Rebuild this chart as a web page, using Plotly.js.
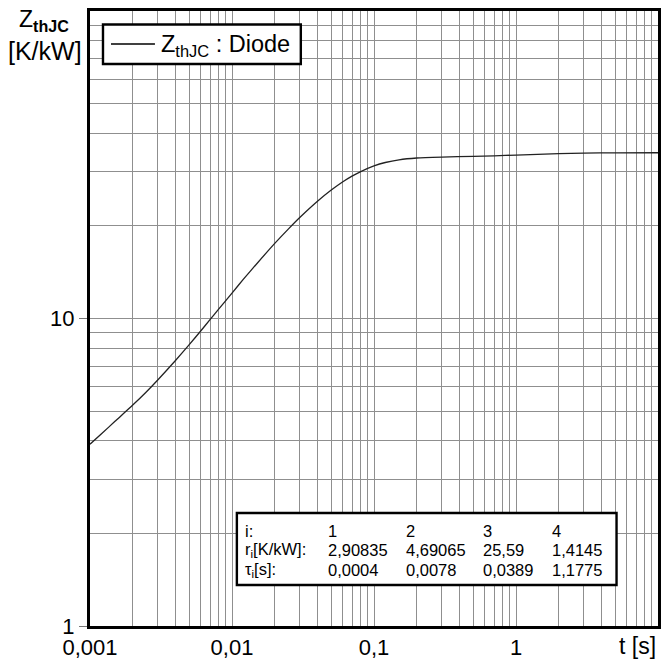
<!DOCTYPE html>
<html>
<head>
<meta charset="utf-8">
<script src="https://cdn.plot.ly/plotly-3.0.1.min.js"></script>
<style>
html,body{margin:0;padding:0;background:#fff;}
#chart{width:664px;height:661px;}
</style>
</head>
<body>
<div id="chart"></div>
<script>
// Time axis samples [s] and Z_thJC readings [K/kW]
const tValues = [0.001, 0.0012, 0.0015, 0.002, 0.0025, 0.003, 0.004, 0.005, 0.006, 0.007, 0.008, 0.01, 0.012, 0.015, 0.02, 0.025, 0.03, 0.04, 0.05, 0.06, 0.07, 0.08, 0.1, 0.12, 0.15, 0.2, 0.3, 0.5, 0.7, 1, 2, 3, 5, 10];
const zValues = [3.9, 4.21, 4.63, 5.23, 5.78, 6.31, 7.3, 8.22, 9.09, 9.91, 10.68, 12.1, 13.4, 15.1, 17.55, 19.57, 21.3, 24.06, 26.16, 27.79, 29.04, 30.0, 31.35, 32.16, 32.82, 33.26, 33.49, 33.68, 33.82, 34.0, 34.35, 34.49, 34.58, 34.6];

// Axis tick labels
const xTickVals = [0.001, 0.01, 0.1, 1];
const xTickText = ['0,001', '0,01', '0,1', '1'];
const yTickVals = [1, 10];
const yTickText = ['1', '10'];

// Legend label
const seriesName = 'Z<sub>thJC</sub> : Diode';

// Foster table
const tableIndex = ['1', '2', '3', '4'];
const rValues = ['2,90835', '4,69065', '25,59', '1,4145'];
const tauValues = ['0,0004', '0,0078', '0,0389', '1,1775'];
const rowLabels = ['i:', 'r<sub>i</sub>[K/kW]:', 'τ<sub>i</sub>[s]:'];

const FONT = 'Liberation Sans, Arial, sans-serif';
const grid = '#8f8f8f';

// log grid positions (1..9 per decade)
function logGrid(d0, d1) {
  const v = [];
  for (let d = d0; d < d1; d++) for (let m = 2; m <= 9; m++) v.push(+(m * Math.pow(10, d)).toPrecision(3));
  return v;
}

// pixel -> paper helpers (plot area 90..658.5 x 11..626)
const L = 90, R = 658.5, T = 11, B = 626;
const px = x => (x - L) / (R - L);
const py = y => (B - y) / (B - T);

const trace = {
  x: tValues, y: zValues, type: 'scatter', mode: 'lines',
  line: {color: '#222', width: 1.3, shape: 'spline', smoothing: 0.5},
  name: seriesName, hoverinfo: 'skip', showlegend: false
};

const annotations = [
  {xref: 'paper', yref: 'paper', x: px(44), y: py(20), text: 'Z<sub><b>thJC</b></sub>', showarrow: false,
   font: {family: FONT, size: 23, color: '#000'}, xanchor: 'center', yanchor: 'middle'},
  {xref: 'paper', yref: 'paper', x: px(44.5), y: py(51.5), text: '[K/kW]', showarrow: false,
   font: {family: FONT, size: 25, color: '#000'}, xanchor: 'center', yanchor: 'middle'},
  {xref: 'paper', yref: 'paper', x: px(659), y: py(646), text: 't [s]', showarrow: false,
   font: {family: FONT, size: 23, color: '#000'}, xanchor: 'right', yanchor: 'middle'},
  {xref: 'paper', yref: 'paper', x: px(159), y: py(45), text: seriesName, showarrow: false,
   font: {family: FONT, size: 23.5, color: '#000'}, xanchor: 'left', yanchor: 'middle'}
];

const colX = [px(327), px(405), px(482), px(551)];
const rowY = [py(530.5), py(550), py(569.5)];
const rows = [tableIndex, rValues, tauValues];
rowLabels.forEach((lab, r) => {
  annotations.push({xref: 'paper', yref: 'paper', x: px(244), y: rowY[r], text: lab, showarrow: false,
    font: {family: FONT, size: 16.5, color: '#000'}, xanchor: 'left', yanchor: 'middle', borderpad: 0});
  rows[r].forEach((v, c) => {
    annotations.push({xref: 'paper', yref: 'paper', x: colX[c], y: rowY[r], text: v, showarrow: false,
      font: {family: FONT, size: 16.5, color: '#000'}, xanchor: 'left', yanchor: 'middle', borderpad: 0});
  });
});

const shapes = [
  {type: 'rect', xref: 'paper', yref: 'paper', x0: px(237), x1: px(617), y0: py(585), y1: py(513),
   fillcolor: '#fff', line: {color: '#000', width: 2.4}, layer: 'above'},
  // legend box + line sample
  {type: 'rect', xref: 'paper', yref: 'paper', x0: px(103), x1: px(301), y0: py(64), y1: py(24.5),
   fillcolor: '#fff', line: {color: '#000', width: 2.4}, layer: 'above'},
  {type: 'line', xref: 'paper', yref: 'paper', x0: px(111), x1: px(155), y0: py(44), y1: py(44),
   line: {color: '#000', width: 1.5}, layer: 'above'}
];

const layout = {
  width: 664, height: 661,
  margin: {l: 90, r: 5.5, t: 11, b: 35, pad: 0},
  paper_bgcolor: '#fff', plot_bgcolor: '#fff',
  font: {family: FONT, size: 22, color: '#000'},
  showlegend: false,
  xaxis: {
    type: 'log', range: [-3, 1], tickmode: 'array', tickvals: xTickVals, ticktext: xTickText,
    showgrid: true, gridcolor: grid, gridwidth: 1,
    minor: {tickmode: 'array', tickvals: logGrid(-3, 1), showgrid: true, gridcolor: grid, gridwidth: 1, ticks: ''},
    showline: true, linecolor: '#000', linewidth: 3, mirror: true,
    ticks: '', zeroline: false, tickfont: {family: FONT, size: 22, color: '#000'}
  },
  yaxis: {
    type: 'log', range: [0, 2], tickmode: 'array', tickvals: yTickVals, ticktext: yTickText,
    showgrid: true, gridcolor: grid, gridwidth: 1,
    minor: {tickmode: 'array', tickvals: logGrid(0, 2), showgrid: true, gridcolor: grid, gridwidth: 1, ticks: ''},
    showline: true, linecolor: '#000', linewidth: 3, mirror: true,
    ticks: 'outside', ticklen: 8, tickcolor: '#777', tickwidth: 1,
    zeroline: false, tickfont: {family: FONT, size: 22, color: '#000'}
  },
  annotations: annotations,
  shapes: shapes
};

Plotly.newPlot('chart', [trace], layout, {displayModeBar: false, staticPlot: true});
</script>
</body>
</html>
